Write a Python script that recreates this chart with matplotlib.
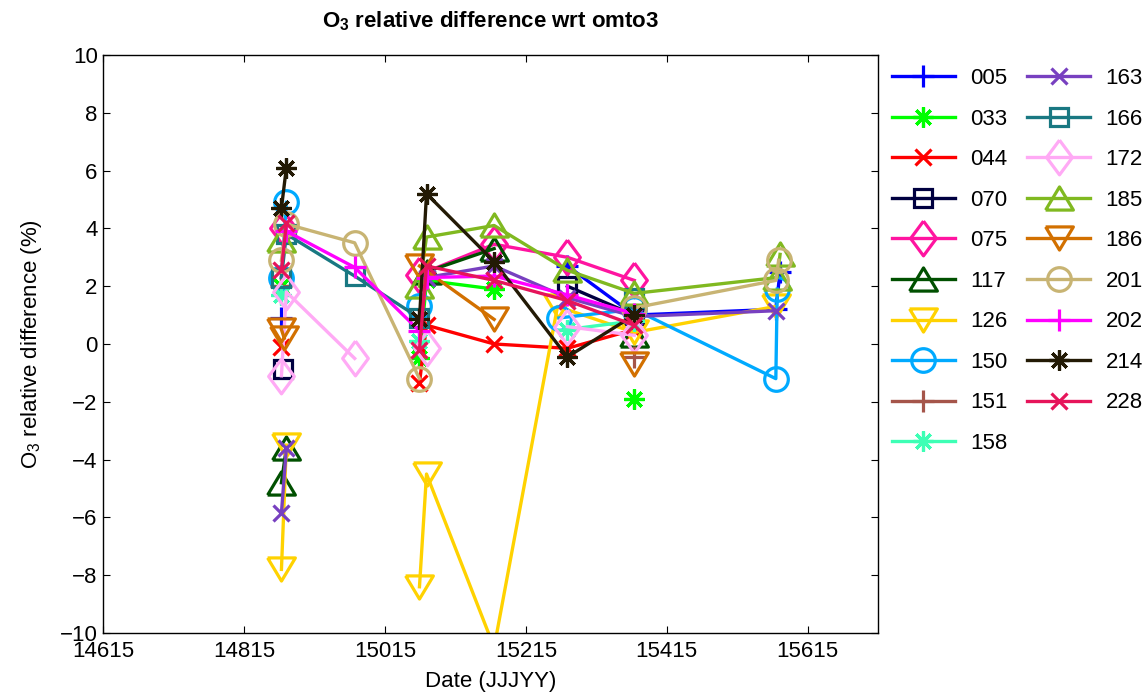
"""O3 relative difference of each station against OMTO3"""
import numpy as np
import matplotlib
matplotlib.use("Agg")
import matplotlib.pyplot as plt

plt.rcParams["font.family"] = ["Liberation Sans", "DejaVu Sans"]
plt.rcParams["mathtext.fontset"] = "custom"
plt.rcParams["mathtext.rm"] = "Liberation Sans"
plt.rcParams["mathtext.bf"] = "Liberation Sans:bold"

STATIONS = ["005", "033", "044", "070", "075", "117", "126", "150", "151", "158",
            "163", "166", "172", "185", "186", "201", "202", "214", "228"]
COLORS = ["#0000ff", "#00ff00", "#ff0000", "#000040", "#ff14a0", "#005000",
          "#ffd200", "#00aaff", "#a5554a", "#3dffb5", "#7840c0", "#197882",
          "#ffaaf5", "#80b920", "#d27000", "#c8b473", "#ff00ff", "#231a05",
          "#e6145a"]
SYMBOLS = ["+", "*", "x", "s", "d", "^", "v", "o", "+", "*",
           "x", "s", "d", "^", "v", "o", "+", "*", "x"]

# (date JJJYY, difference %); None breaks the line
O3_005 = [(14868, 0.9), None, (15274, 2.7), (15369, 1.0), (15570, 1.2), (15576, 2.5)]
O3_033 = [(14868, 2.0), None, (15064, -0.5), (15074, 2.2), (15170, 1.9), None,
          (15369, -1.9)]
O3_044 = [(14868, -0.1), None, (15064, -1.35), (15074, 0.65), (15170, 0.0),
          (15274, -0.15), (15369, 0.5)]
O3_070 = [(14870, -0.85), None, (15274, 2.0), (15369, 1.0)]
O3_075 = [(14870, 4.0), None, (15064, 2.4), (15170, 3.45), (15274, 3.0), (15369, 2.2)]
O3_117 = [(14875, -3.6), (14868, -4.8), None, (15074, 2.5), (15170, 3.3), None,
          (15369, 0.3)]
O3_126 = [(14875, -3.5), (14868, -7.8), None, (15064, -8.4), (15074, -4.5),
          (15170, -10.5), (15260, 1.3), (15369, 0.4), (15570, 1.3)]
O3_150 = [(14875, 4.9), (14868, 2.3), None, (15064, 1.3), None, (15262, 0.9),
          (15369, 1.2), (15570, -1.2), (15572, 1.9)]
O3_151 = [(14868, 2.0), None, (15369, -0.45)]
O3_158 = [(14868, 1.7), None, (15064, 0.1), None, (15274, 0.5), (15369, 0.8)]
O3_163 = [(14875, -3.6), (14868, -5.85), None, (15074, 2.3), (15170, 2.7),
          (15274, 1.6), (15369, 0.95), (15570, 1.15)]
O3_166 = [(14868, 2.3), (14875, 3.8), (14972, 2.35), (15064, 0.9), None, (15369, 1.6)]
O3_172 = [(14868, -1.1), (14875, 1.8), (14972, -0.5), None, (15074, -0.15), None,
          (15274, 0.6), (15369, 0.3)]
O3_185 = [(14868, 3.6), None, (15064, 2.0), (15074, 3.7), (15170, 4.1),
          (15274, 2.55), (15369, 1.75), (15572, 2.3), (15576, 3.1)]
O3_186 = [(14868, 0.5), (14872, 0.2), None, (15064, 2.7), (15170, 0.85), None,
          (15369, -0.7)]
O3_201 = [(14868, 2.9), (14875, 4.15), (14972, 3.5), (15064, -1.2), None,
          (15369, 1.25), (15570, 2.2), (15574, 2.9)]
O3_202 = [(14875, 3.9), (14972, 2.65), (15064, 0.45), (15074, 2.3), (15170, 2.35),
          (15274, 1.7), (15369, 1.05)]
O3_214 = [(14868, 4.7), (14875, 6.1), None, (15064, 0.85), (15074, 5.2),
          (15170, 2.85), (15274, -0.45), (15369, 1.0)]
O3_228 = [(14875, 4.2), (14868, 2.55), None, (15064, -0.2), (15074, 2.7),
          (15170, 2.2), (15274, 1.5), (15369, 0.65)]

SERIES = [O3_005, O3_033, O3_044, O3_070, O3_075, O3_117, O3_126, O3_150, O3_151,
          O3_158, O3_163, O3_166, O3_172, O3_185, O3_186, O3_201, O3_202, O3_214,
          O3_228]

XTICKS = [14615, 14815, 15015, 15215, 15415, 15615]
YTICKS = list(range(-10, 11, 2))

# matlab-like marker shapes and sizes (pt)
MARKER_STYLE = {
    "+": ("+", 16.5),
    "*": ((8, 2, 0), 14.5),
    "x": ("x", 11),
    "s": ("s", 13),
    "d": ([(0, 1.35), (1, 0), (0, -1.35), (-1, 0), (0, 1.35)], 25),
    "^": ([(-1.2, -1), (1.2, -1), (0, 1), (-1.2, -1)], 20),
    "v": ([(-1.2, 1), (1.2, 1), (0, -1), (-1.2, 1)], 20),
    "o": ("o", 17),
}

fig = plt.figure(figsize=(11.46, 6.94), dpi=100)
ax = fig.add_axes([0.0901, 0.0879, 0.676, 0.8329])

for name, pts, col, sym in zip(STATIONS, SERIES, COLORS, SYMBOLS):
    xs = [np.nan if p is None else p[0] for p in pts]
    ys = [np.nan if p is None else p[1] for p in pts]
    mk, ms = MARKER_STYLE[sym]
    ax.plot(xs, ys, color=col, marker=mk, markersize=ms, markeredgewidth=2.3,
            markerfacecolor="none", linewidth=2.4, label=name)

ax.set_xlim(14615, 15715)
ax.set_ylim(-10, 10)
ax.set_xticks(XTICKS)
ax.set_xticklabels([str(t) for t in XTICKS])
ax.set_yticks(YTICKS)
ax.tick_params(direction="in", top=True, right=True, length=5, labelsize=16)
ax.tick_params(axis="y", pad=4)
ax.tick_params(axis="x", pad=6)
for s in ax.spines.values():
    s.set_linewidth(1.0)

ax.set_xlabel("Date (JJJYY)", fontsize=16, labelpad=6)
ax.set_ylabel("O$_3$ relative difference (%)", fontsize=16)
ax.yaxis.set_label_coords(-0.077, 0.5)
ax.set_title(r"O$_{\mathbf{3}}$ relative difference wrt omto3", fontsize=16,
             fontweight="bold", pad=20)

fig.legend(loc="upper left", bbox_to_anchor=(0.778, 0.902), ncol=2,
           frameon=False, fontsize=16, handlelength=2.84, labelspacing=0.88,
           columnspacing=0.9, handletextpad=0.68, borderpad=0, borderaxespad=0)

fig.savefig("out.png", dpi=100)
